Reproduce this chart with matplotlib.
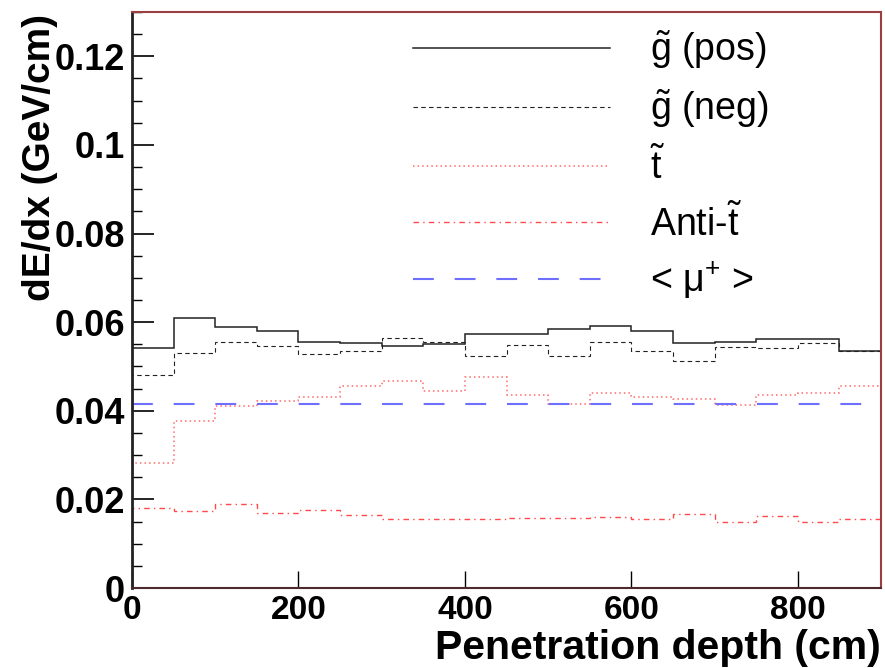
import numpy as np
import matplotlib
matplotlib.use("Agg")
import matplotlib.pyplot as plt
from matplotlib.lines import Line2D
from matplotlib.ticker import FuncFormatter, MultipleLocator

plt.rcParams['font.family'] = ['Liberation Sans', 'DejaVu Sans']
plt.rcParams['mathtext.fontset'] = 'custom'
plt.rcParams['mathtext.rm'] = 'Liberation Sans'
plt.rcParams['mathtext.it'] = 'Liberation Sans'
plt.rcParams['mathtext.bf'] = 'Liberation Sans:bold'

# ---- data ----
bin_edges = np.arange(0, 901, 50)
gluino_pos = [0.0542, 0.0609, 0.0590, 0.0581, 0.0555, 0.0552, 0.0547, 0.0551, 0.0573,
              0.0573, 0.0584, 0.0592, 0.0581, 0.0552, 0.0555, 0.0561, 0.0561, 0.0535]
gluino_neg = [0.0480, 0.0531, 0.0556, 0.0547, 0.0527, 0.0534, 0.0565, 0.0555, 0.0523,
              0.0548, 0.0523, 0.0556, 0.0535, 0.0513, 0.0545, 0.0542, 0.0552, 0.0535]
stop = [0.0282, 0.0377, 0.0410, 0.0421, 0.0432, 0.0455, 0.0467, 0.0445, 0.0477,
        0.0436, 0.0416, 0.0441, 0.0432, 0.0427, 0.0414, 0.0436, 0.0441, 0.0455]
anti_stop = [0.0181, 0.0173, 0.0189, 0.0170, 0.0177, 0.0164, 0.0155, 0.0155, 0.0155,
             0.0157, 0.0157, 0.0160, 0.0156, 0.0166, 0.0148, 0.0162, 0.0148, 0.0155]
muon_mean = 0.0416
labels = [r'$\tilde{\mathrm{g}}$ (pos)', r'$\tilde{\mathrm{g}}$ (neg)', r'$\tilde{\mathrm{t}}$',
          r'Anti-$\tilde{\mathrm{t}}$', r'< $\mathrm{\mu}^{+}$ >']
x_ticks = [0, 200, 400, 600, 800]
y_ticks = [0, 0.02, 0.04, 0.06, 0.08, 0.1, 0.12]

fig = plt.figure(figsize=(8.85, 6.68), dpi=100)
ax = fig.add_axes([132/885, 1-588/668, (881-132)/885, (588-12)/668])

styles = [
    dict(color='#222222', lw=1.1, ls='-'),
    dict(color='#222222', lw=0.8, ls=(0, (4, 3))),
    dict(color='#ff6a6a', lw=1.1, ls=(0, (1, 2))),
    dict(color='#ff4a4a', lw=1.0, ls=(0, (4, 3, 1, 3))),
    dict(color='#6f6fff', lw=1.5, ls=(0, (10, 10))),
]

for vals, st in zip([gluino_pos, gluino_neg, stop, anti_stop], styles[:4]):
    ax.stairs(vals, bin_edges, color=st['color'], linewidth=st['lw'], linestyle=st['ls'])
ax.axhline(muon_mean, color=styles[4]['color'], lw=styles[4]['lw'], ls=styles[4]['ls'])

ax.set_xlim(0, 900)
ax.set_ylim(0, 0.13)

ax.set_xticks(x_ticks)
ax.set_yticks(y_ticks)
ax.yaxis.set_minor_locator(MultipleLocator(0.005))
fmt = FuncFormatter(lambda v, p: ('%g' % round(v, 4)))
ax.yaxis.set_major_formatter(fmt)
ax.xaxis.set_major_formatter(fmt)
ax.tick_params(axis='y', which='major', direction='in', length=16, width=1.2, pad=5,
               labelsize=26, left=True, right=False)
ax.tick_params(axis='y', which='minor', direction='in', length=7.5, width=1.0, left=True, right=False)
ax.tick_params(axis='x', which='major', direction='in', length=12, width=1.0, pad=5,
               labelsize=24, top=False)
for lab in ax.get_xticklabels() + ax.get_yticklabels():
    lab.set_fontweight('bold')

ax.spines['left'].set_color('#222222')
ax.spines['left'].set_linewidth(2.0)
for s in ['top', 'right']:
    ax.spines[s].set_color('#9a4040')
    ax.spines[s].set_linewidth(1.5)
ax.spines['bottom'].set_color('#4a2a2a')
ax.spines['bottom'].set_linewidth(1.5)

fig.text(40/885, 1-14/668, 'dE/dx (GeV/cm)', rotation=90, ha='center', va='top',
         fontsize=28, fontweight='bold')
fig.text(881/885, 1-659/668, 'Penetration depth (cm)', ha='right', va='baseline',
         fontsize=29.5, fontweight='bold')

handles = [Line2D([], [], color=st['color'], lw=st['lw'], ls=st['ls']) for st in styles]
leg = ax.legend(handles, labels, loc='upper left', bbox_to_anchor=(0.375, 0.972),
                frameon=False, fontsize=27, handlelength=5.25, handletextpad=1.07,
                labelspacing=0.45, borderpad=0, borderaxespad=0)

fig.savefig('out.png', dpi=100)
